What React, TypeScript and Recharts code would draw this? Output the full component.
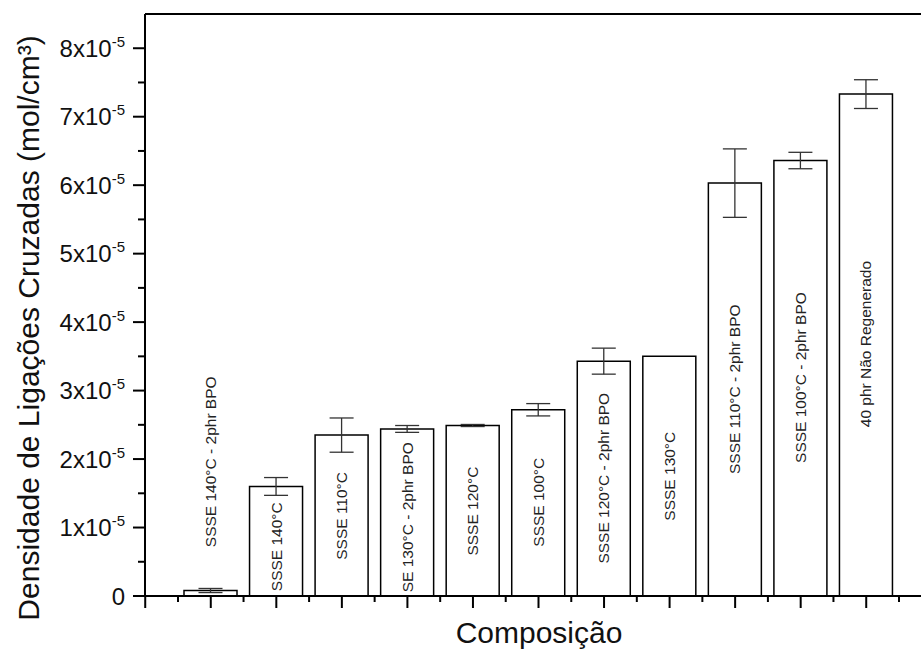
import { BarChart, Bar, XAxis, YAxis, ErrorBar, LabelList, ReferenceLine } from "recharts";

// values in units of 10^-5 mol/cm3
const categories = [
  "SSSE 140°C - 2phr BPO",
  "SSSE 140°C",
  "SSSE 110°C",
  "SE 130°C - 2phr BPO",
  "SSSE 120°C",
  "SSSE 100°C",
  "SSSE 120°C - 2phr BPO",
  "SSSE 130°C",
  "SSSE 110°C - 2phr BPO",
  "SSSE 100°C - 2phr BPO",
  "40 phr Não Regenerado",
];
const densities = [0.08, 1.6, 2.35, 2.44, 2.49, 2.72, 3.43, 3.5, 6.03, 6.36, 7.33];
const errors = [0.03, 0.13, 0.25, 0.05, 0.015, 0.09, 0.19, 0, 0.5, 0.12, 0.21];
const yTicks = [0, 0.5, 1, 1.5, 2, 2.5, 3, 3.5, 4, 4.5, 5, 5.5, 6, 6.5, 7, 7.5, 8];

const data = categories.map((name, i) => ({ name, value: densities[i], err: errors[i] }));

// where the rotated name sits inside each bar (centre, same units as the axis)
const labelAnchor = [1.96, 0.72, 1.17, 1.15, 1.24, 1.37, 1.72, 1.75, 3.02, 3.19, 3.68];

const FONT = "'Liberation Sans', Arial, Helvetica, sans-serif";
const BAND = 65.55;

const YTick = ({ x, y, payload }: any) => {
  const v = payload.value;
  const major = Number.isInteger(v);
  return (
    <g>
      <line x1={x - (major ? 12 : 7)} x2={x} y1={y} y2={y} stroke="#000" strokeWidth={2} />
      {major && (
        <text x={x - 20} y={y} dy={8.5} textAnchor="end" fontSize={24} fontFamily={FONT} fill="#111">
          {v === 0 ? "0" : (
            <>
              {v}x10<tspan dy={-10} fontSize={15}>-5</tspan>
            </>
          )}
        </text>
      )}
    </g>
  );
};

const XTick = ({ x, y, index }: any) => (
  <g stroke="#000" strokeWidth={2}>
    <line x1={x} x2={x} y1={y} y2={y + 12} />
    <line x1={x - BAND / 2} x2={x - BAND / 2} y1={y} y2={y + 6} />
    {index === 0 && <line x1={x - BAND} x2={x - BAND} y1={y} y2={y + 12} />}
    {index === categories.length - 1 && <line x1={x + BAND / 2} x2={x + BAND / 2} y1={y} y2={y + 6} />}
  </g>
);

const BarName = ({ x, y, width, height, index, value }: any) => {
  const cx = x + width / 2;
  const cy = y + height - (labelAnchor[index] * height) / value;
  return (
    <text
      x={cx}
      y={cy}
      transform={`rotate(-90 ${cx} ${cy})`}
      textAnchor="middle"
      dominantBaseline="central"
      fontSize={15.5}
      fontFamily={FONT}
      fill="#222"
    >
      {categories[index]}
    </text>
  );
};

const YTitle = () => (
  <text
    x={28}
    y={328}
    transform="rotate(-90 28 328)"
    textAnchor="middle"
    dominantBaseline="central"
    fontSize={30}
    fontFamily={FONT}
    fill="#111"
  >
    Densidade de Ligações Cruzadas (mol/cm³)
  </text>
);

const XTitle = () => (
  <text x={539} y={643} textAnchor="middle" fontSize={30} fontFamily={FONT} fill="#111">
    Composição
  </text>
);

export default function App() {
  return (
    <div style={{ position: "absolute", left: 0, top: 0, width: 921, height: 658, overflow: "hidden", background: "#fff" }}>
      <BarChart width={960} height={658} data={data} margin={{ top: 14, right: 28, bottom: 0, left: 0 }} barSize={53}>
        <XAxis
          dataKey="name"
          height={62}
          padding={{ left: 33, right: 33 }}
          axisLine={{ stroke: "#000", strokeWidth: 2 }}
          tickLine={false}
          tickSize={0}
          tickMargin={0}
          tick={<XTick />}
          interval={0}
          label={<XTitle />}
        />
        <YAxis
          width={145}
          domain={[0, 8.5]}
          ticks={yTicks}
          interval={0}
          axisLine={{ stroke: "#000", strokeWidth: 2 }}
          tickLine={false}
          tickSize={0}
          tickMargin={0}
          tick={<YTick />}
          label={<YTitle />}
        />
        <ReferenceLine y={8.5} stroke="#000" strokeWidth={2} />
        <Bar dataKey="value" fill="#fff" stroke="#000" strokeWidth={1.5} isAnimationActive={false}>
          <ErrorBar dataKey="err" width={12} stroke="#333" strokeWidth={1.3} direction="y" />
          <LabelList dataKey="value" content={<BarName />} />
        </Bar>
      </BarChart>
    </div>
  );
}
